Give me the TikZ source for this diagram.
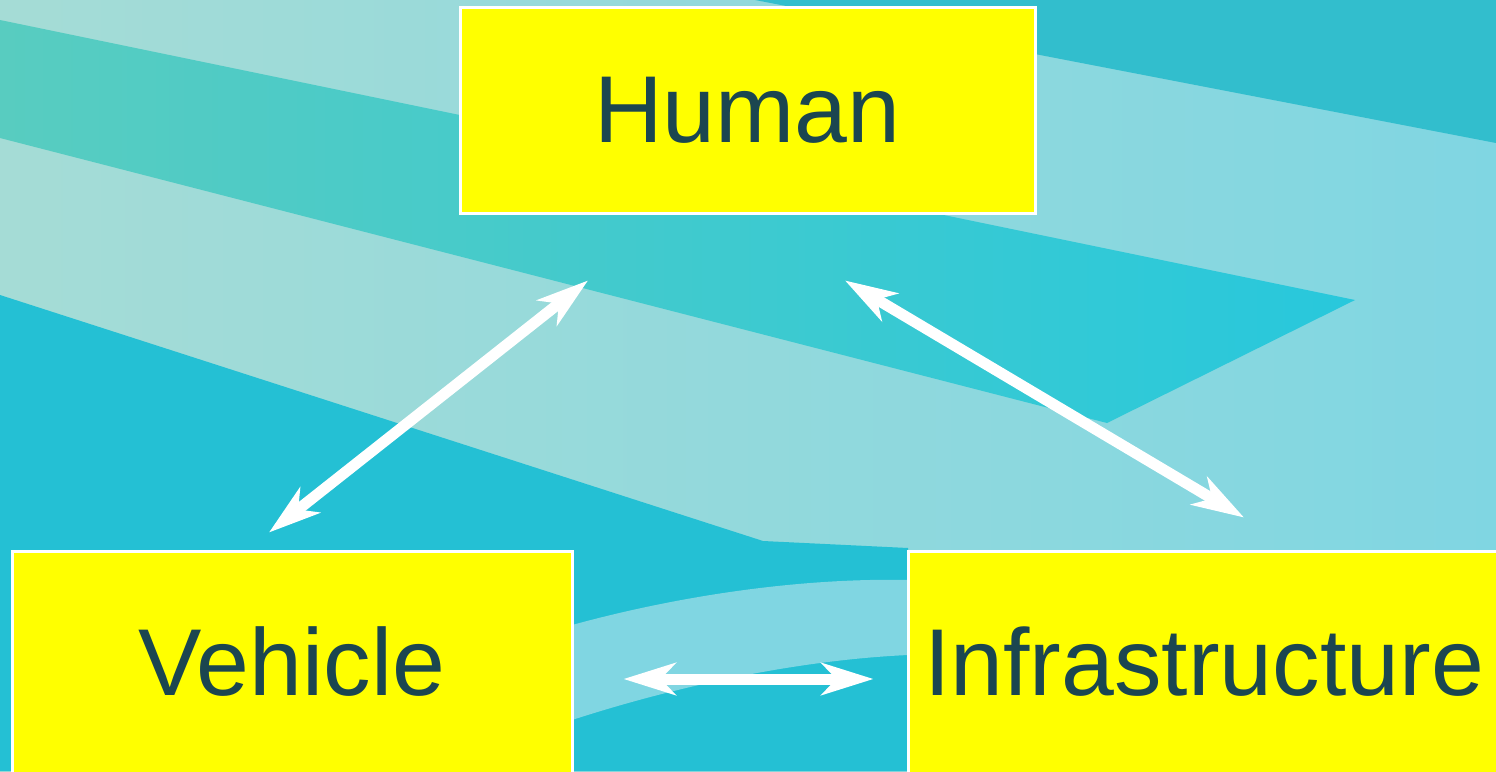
\documentclass[tikz,border=0pt]{standalone}
\usepackage{fontspec}
\setmainfont{Liberation Sans}
\usetikzlibrary{positioning, arrows.meta}

\definecolor{boxyellow}{RGB}{255,255,0}
\definecolor{labelteal}{RGB}{27,70,80}
\definecolor{palecyan}{RGB}{128,214,226}
\definecolor{paleleft}{RGB}{165,220,214}
\definecolor{greenteal}{RGB}{88,204,192}
\definecolor{deepcyan}{RGB}{40,200,220}
\definecolor{lowcyan}{RGB}{36,192,212}
\definecolor{topcyan}{RGB}{50,190,205}

\begin{document}
\begin{tikzpicture}[
    x=1pt, y=-1pt,
    % Styles
    part/.style={draw=white, line width=3pt, fill=boxyellow, text=labelteal,
        font=\fontsize{95}{100}\selectfont, inner sep=0pt},
    link/.style={{Stealth[length=52pt, width=32pt, inset=15pt]}-{Stealth[length=52pt, width=32pt, inset=15pt]},
        white, line width=11pt},
]

\useasboundingbox (0,0) rectangle (1496,771);
\clip (0,0) rectangle (1496,771);

% Background
\shade[left color=paleleft, right color=palecyan] (0,0) rectangle (1496,771);
\fill[topcyan] (755,0) -- (1496,0) -- (1496,143) -- cycle;
\shade[left color=greenteal, right color=deepcyan] (0,20) -- (1355,300) -- (1107,423) -- (0,138) -- cycle;
\fill[lowcyan] (0,295) -- (763,541) -- (908,548) -- (908,771) -- (0,771) -- cycle;
\fill[palecyan] (572,625) .. controls (700,590) and (820,578) .. (908,580)
    -- (908,655) .. controls (800,660) and (680,685) .. (572,720) -- cycle;

% Boxes
\node[part, minimum width=575pt, minimum height=206pt] (human) at (747.5,110) {Human};
\node[part, minimum width=560pt, minimum height=222pt] (vehicle) at (292,662) {Vehicle};
\node[part, minimum width=592pt, minimum height=222pt] (infra) at (1204,662) {Infrastructure};

% Arrow ends
\coordinate (veh-up) at ([shift={(-23,-17)}]vehicle.north);
\coordinate (hum-left) at ([shift={(-159.5,66)}]human.south);
\coordinate (hum-right) at ([shift={(97.5,66)}]human.south);
\coordinate (inf-up) at ([shift={(40,-32)}]infra.north);
\coordinate (veh-right) at ([shift={(50,17)}]vehicle.east);
\coordinate (inf-left) at ([shift={(-33,17)}]infra.west);

% Arrows
\draw[link] (veh-up) -- (hum-left);
\draw[link] (hum-right) -- (inf-up);
\draw[link] (veh-right) -- (inf-left);

\end{tikzpicture}
\end{document}
